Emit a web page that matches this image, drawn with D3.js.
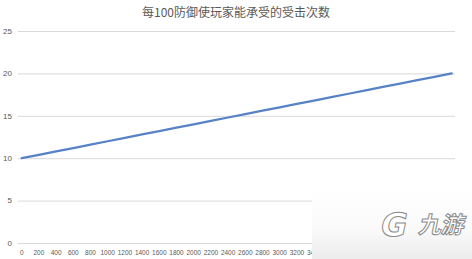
<!DOCTYPE html>
<html>
<head>
<meta charset="utf-8">
<script src="https://d3js.org/d3.v7.min.js"></script>
<style>
  body { margin: 0; background: #fff; }
  .grids line { stroke: #d9d9d9; }
  .grids .domain { stroke: none; }
  text { fill: #595959; }
</style>
</head>
<body>
<svg id="chart" width="472" height="259"></svg>
<script>
// chart data
const title = '每100防御使玩家能承受的受击次数'
const defense = [0, 200, 400, 600, 800, 1000, 1200, 1400, 1600, 1800, 2000, 2200, 2400,
                 2600, 2800, 3000, 3200, 3400, 3600, 3800, 4000, 4200, 4400, 4600, 4800, 5000]
const hits = [10, 10.4, 10.8, 11.2, 11.6, 12, 12.4, 12.8, 13.2, 13.6, 14, 14.4, 14.8,
              15.2, 15.6, 16, 16.4, 16.8, 17.2, 17.6, 18, 18.4, 18.8, 19.2, 19.6, 20]
const yTicks = [0, 5, 10, 15, 20, 25]

const margin = {left:18, top:31, bottom:16, right:17}
let svg = d3.select('svg#chart')
let width = +svg.attr('width'), height = +svg.attr('height')

// y scale
let y = d3.scaleLinear()
          .domain([0, 25])
          .range([243, margin.top])

// x scale (points sit on tick marks)
let x = d3.scalePoint()
          .domain(defense)
          .range([21.7, 451.7])

// gridlines
let ygrid = d3.axisLeft(y)
              .tickValues(yTicks)
              .tickFormat('')
              .tickSize(-(width - margin.left - margin.right))
svg.append('g')
   .attr('class', 'grids')
   .attr('transform', `translate(${margin.left},0)`)
   .call(ygrid)

// y labels
svg.append('g')
   .selectAll('text')
   .data(yTicks)
   .join('text')
   .attr('x', 12)
   .attr('y', d => y(d))
   .attr('dy', '0.35em')
   .attr('text-anchor', 'end')
   .style('font', '8px "Liberation Sans", sans-serif')
   .text(d => d)

// x labels
svg.append('g')
   .selectAll('text')
   .data(defense)
   .join('text')
   .attr('x', d => x(d))
   .attr('y', 255)
   .attr('text-anchor', 'middle')
   .style('font', '8px "Liberation Sans", sans-serif')
   .attr('textLength', d => String(d).length * 3.6)
   .attr('lengthAdjust', 'spacingAndGlyphs')
   .text(d => d)

// the line
let line = d3.line()
             .x((d, i) => x(defense[i]))
             .y(d => y(d))
svg.append('path')
   .datum(hits)
   .attr('d', line)
   .attr('fill', 'none')
   .attr('stroke', '#5682c6')
   .attr('stroke-width', 2.25)
   .attr('stroke-linecap', 'round')

// title
svg.append('text')
   .attr('x', 236)
   .attr('y', 17)
   .attr('text-anchor', 'middle')
   .style('font', '12px "Noto Sans CJK SC", sans-serif')
   .text(title)

// watermark box bottom-right
let defs = svg.append('defs')
let grad = defs.append('linearGradient')
               .attr('id', 'wm').attr('x1', 0).attr('y1', 0).attr('x2', 0).attr('y2', 1)
grad.append('stop').attr('offset', '0%').attr('stop-color', '#ffffff').attr('stop-opacity', 0.9)
grad.append('stop').attr('offset', '60%').attr('stop-color', '#fafafa').attr('stop-opacity', 1)
grad.append('stop').attr('offset', '100%').attr('stop-color', '#ececec').attr('stop-opacity', 1)
svg.append('rect')
   .attr('x', 312).attr('y', 185).attr('width', 160).attr('height', 74)
   .attr('fill', 'url(#wm)')

let wm = svg.append('g').attr('transform', 'translate(0,236)')
wm.append('text')
  .attr('x', 392)
  .attr('y', 0)
  .attr('text-anchor', 'middle')
  .attr('transform', 'skewX(-12)')
  .style('font', 'bold 32px "DejaVu Sans", sans-serif')
  .style('fill', '#fff')
  .style('stroke', '#8a8a8a')
  .style('stroke-width', 1)
  .text('G')
wm.append('text')
  .attr('x', 440)
  .attr('y', -3)
  .attr('text-anchor', 'middle')
  .attr('transform', 'skewX(-12)')
  .style('font', 'bold 23px "Noto Sans CJK SC", sans-serif')
  .style('fill', '#fff')
  .style('stroke', '#8a8a8a')
  .style('stroke-width', 1)
  .text('九游')
</script>
</body>
</html>
